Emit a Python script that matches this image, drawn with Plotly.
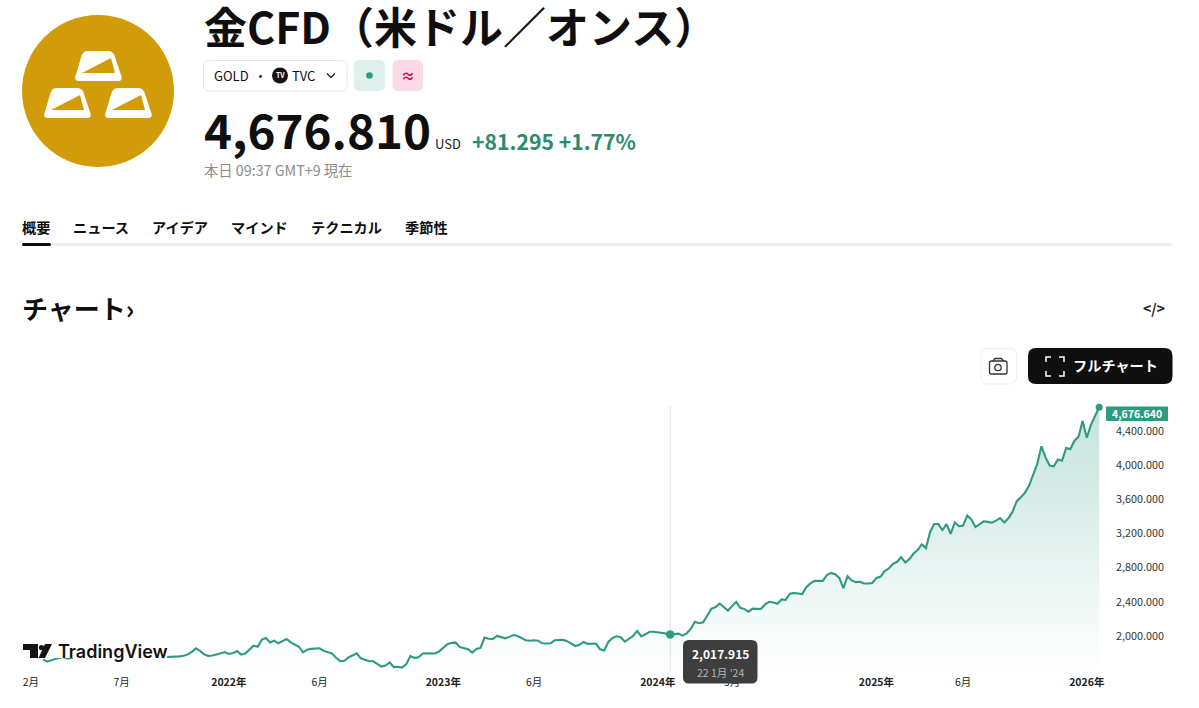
import math
import pandas as pd
import plotly.graph_objects as go

W = 1199
H = 708
FONT = 'Noto Sans CJK JP'
GREEN = '#2e9a80'

# weekly close (the part behind the logo is a best guess)
prices = [
    1725, 1700, 1715, 1735, 1745, 1755, 1735, 1745, 1775, 1770,
    1830, 1840, 1880, 1905, 1890, 1877, 1765, 1780, 1785, 1810,
    1815, 1802, 1812, 1762, 1780, 1783, 1816, 1828, 1788, 1752,
    1754, 1755, 1758, 1762, 1768, 1782, 1815, 1855, 1825, 1785,
    1768, 1772, 1785, 1798, 1812, 1790, 1800, 1824, 1782, 1795,
    1845, 1887, 1875, 1958, 1977, 1925, 1945, 1915, 1940, 1965,
    1925, 1895, 1875, 1808, 1840, 1850, 1852, 1856, 1826, 1812,
    1797, 1745, 1707, 1711, 1750, 1772, 1797, 1739, 1720, 1705,
    1704, 1672, 1643, 1655, 1690, 1636, 1641, 1630, 1668, 1766,
    1745, 1751, 1795, 1797, 1795, 1795, 1820, 1860, 1905, 1920,
    1922, 1870, 1860, 1845, 1805, 1848, 1860, 1982, 1968, 1965,
    2000, 1990, 1973, 1990, 2012, 2000, 1975, 1950, 1945, 1950,
    1945, 1915, 1912, 1915, 1950, 1955, 1957, 1940, 1915, 1883,
    1897, 1930, 1908, 1912, 1912, 1845, 1830, 1930, 1975, 1996,
    1985, 1935, 1965, 2000, 2060, 1995, 2020, 2050, 2050, 2045,
    2040, 2030, 2017.915, 2025, 2028, 2005, 2030, 2085, 2167, 2150,
    2160, 2240, 2320, 2338, 2380, 2340, 2298, 2350, 2400, 2330,
    2315, 2285, 2320, 2318, 2316, 2370, 2400, 2392, 2378, 2428,
    2422, 2495, 2503, 2497, 2490, 2570, 2615, 2645, 2644, 2645,
    2714, 2738, 2722, 2680, 2560, 2700, 2650, 2630, 2635, 2615,
    2615, 2620, 2680, 2695, 2760, 2790, 2845, 2868, 2922, 2860,
    2900, 2965, 3006, 3073, 3026, 3215, 3310, 3310, 3240, 3308,
    3195, 3330, 3285, 3292, 3410, 3365, 3275, 3305, 3342, 3335,
    3326, 3350, 3380, 3328, 3377, 3454, 3575, 3622, 3675, 3760,
    3880, 4015, 4220, 4090, 3995, 3985, 4065, 4050, 4200, 4184,
    4285, 4332, 4515, 4320, 4470, 4580, 4676.64,
]
dates = pd.date_range('2021-02-22', periods=len(prices), freq='7D')

hover_date = '2024-01-22'
hover_price = 2017.915

x_tickvals = ['2021-02-01', '2021-07-05', '2022-01-03', '2022-06-06', '2023-01-02', '2023-06-05',
              '2024-01-01', '2024-05-06', '2025-01-06', '2025-06-02', '2025-12-29']
x_ticktext = ['2月', '7月', '<b>2022年</b>', '6月', '<b>2023年</b>', '6月',
              '<b>2024年</b>', '5月', '<b>2025年</b>', '6月', '<b>2026年</b>']
y_tickvals = [2000, 2400, 2800, 3200, 3600, 4000, 4400]
x_range = ['2021-01-17', '2026-02-03']
y_range = [1579, 4761]

tabs = ['概要', 'ニュース', 'アイデア', 'マインド', 'テクニカル', '季節性']
tab_x = [21, 72, 151, 230, 310, 404]


def px(x):
    return x / W


def py(y):
    return 1 - y / H


def pt(x, y):
    return f'{px(x):.5f},{py(y):.5f}'


def poly(points, r=0):
    # closed polygon with rounded corners, page pixels
    n = len(points)
    out = ''
    for i in range(n):
        x, y = points[i]
        ax, ay = points[i - 1]
        bx, by = points[(i + 1) % n]
        la = math.hypot(ax - x, ay - y)
        lb = math.hypot(bx - x, by - y)
        p0 = (x + (ax - x) * r / la, y + (ay - y) * r / la)
        p1 = (x + (bx - x) * r / lb, y + (by - y) * r / lb)
        out += ('M' if i == 0 else 'L') + pt(*p0) + ' Q' + pt(x, y) + ' ' + pt(*p1) + ' '
    return out + 'Z'


def rrect(x0, y0, x1, y1, r):
    return poly([(x0, y0), (x1, y0), (x1, y1), (x0, y1)], r)


def line(points):
    return 'M' + ' L'.join(pt(x, y) for x, y in points)


shapes = []


def add_path(path, fill='rgba(0,0,0,0)', stroke=None, width=1):
    shapes.append(dict(type='path', path=path, xref='paper', yref='paper', fillcolor=fill,
                       line=dict(color=stroke or 'rgba(0,0,0,0)', width=width if stroke else 0), layer='above'))


def add_circle(cx, cy, r, fill='rgba(0,0,0,0)', stroke=None, width=1):
    shapes.append(dict(type='circle', xref='paper', yref='paper', x0=px(cx - r), x1=px(cx + r),
                       y0=py(cy + r), y1=py(cy - r), fillcolor=fill,
                       line=dict(color=stroke or 'rgba(0,0,0,0)', width=width if stroke else 0), layer='above'))


annotations = []


def add_text(x, y, text, size, color='#0f0f0f', bold=False, anchor='left', family=FONT, weight=None):
    f = dict(family=family, size=size, color=color)
    if weight:
        f['weight'] = weight
    annotations.append(dict(x=px(x), y=py(y), xref='paper', yref='paper', showarrow=False,
                            text=f'<b>{text}</b>' if bold else text, xanchor=anchor, yanchor='middle',
                            borderpad=0, font=f))


# logo
GOLD = '#d29c08'
add_circle(98, 91, 76, fill=GOLD)
for dx, dy in [(0, 0), (-31, 37), (30, 37)]:
    add_path(poly([(83 + dx, 51 + dy), (113 + dx, 51 + dy), (123 + dx, 81 + dy), (74 + dx, 81 + dy)], 5), fill='white')
    add_path(poly([(82 + dx, 73 + dy), (115 + dx, 73 + dy), (111 + dx, 58 + dy)], 0.5), fill=GOLD)

# header
add_text(203, 25, '金CFD（米ドル／オンス）', 43, bold=True)
add_path(rrect(203.5, 60.5, 347, 91, 6), fill='white', stroke='#e6e6e6')
add_text(213, 75.5, 'GOLD', 13)
add_text(260, 75.5, '・', 13, anchor='center')
add_circle(280, 75.5, 8, fill='#131313')
add_text(280, 75.5, 'TV', 7, color='white', bold=True, anchor='center')
add_text(290.5, 75.5, 'TVC', 13)
add_path(line([(327, 73.5), (331, 77.5), (335, 73.5)]), stroke='#222222', width=1.3)
add_path(rrect(354, 60, 385, 91, 6), fill='#dff0ec')
add_circle(369.5, 75.5, 3.3, fill=GREEN)
add_path(rrect(392.5, 60, 423, 91, 6), fill='#fbd9e6')
add_text(408, 75, '≈', 14, color='#c2185b', bold=True, anchor='center')

add_text(203, 129, '4,676.810', 47.5, bold=True)
add_text(434, 143.5, 'USD', 13, color='#222222')
add_text(470.5, 140.5, '+81.295 +1.77%', 21.2, color='#2b8a70', bold=True)
add_text(203, 169, '本日 09:37 GMT+9 現在', 14.3, color='#8c8c8c')

# tabs
for name, x in zip(tabs, tab_x):
    add_text(x, 227, name, 14.2, bold=True)
add_path(rrect(22, 243, 1172, 246, 1), fill='#f0f0f0')
add_path(rrect(22, 243, 51, 246, 1.5), fill='#0f0f0f')

# section head and buttons
add_text(21, 307, 'チャート›', 26, bold=True)
add_text(1154, 307.5, '&lt;/&gt;', 14, color='#222222', bold=True, anchor='center')
add_path(rrect(981, 348.5, 1016.5, 384, 7), fill='white', stroke='#efefef')
add_path(rrect(989.5, 361, 1007, 374, 2), stroke='#333333', width=1.3)
add_path(line([(993, 361), (995, 358.5), (1001.5, 358.5), (1003.5, 361)]), stroke='#333333', width=1.3)
add_circle(998, 367.5, 3.2, stroke='#333333', width=1.3)
add_path(rrect(1028, 348, 1172.5, 384, 8), fill='#0f0f0f')
for a, b, c in [((1046, 362), (1046, 357), (1051, 357)), ((1059, 357), (1064, 357), (1064, 362)),
                ((1064, 371), (1064, 376), (1059, 376)), ((1051, 376), (1046, 376), (1046, 371))]:
    add_path(line([a, b, c]), stroke='white', width=1.5)
add_text(1071.5, 365, 'フルチャート', 14.2, color='white', bold=True)

# crosshair and tooltip
shapes.append(dict(type='line', xref='x', yref='paper', x0=hover_date, x1=hover_date, y0=py(672), y1=py(406),
                   line=dict(color='#e0e0e0', width=1), layer='below'))
add_path(rrect(683, 640, 757.5, 683.5, 6), fill='#3e3e3e')
add_text(720, 653, '2,017.915', 12, color='white', bold=True, anchor='center')
add_text(720, 672, "22 1月 '24", 10.5, color='#b4b4b4', anchor='center')

# price tag
add_path(rrect(1106, 406.5, 1168, 421, 0.5), fill=GREEN)
add_text(1163, 413.5, '<b>4,676.640</b>', 10.5, color='white', anchor='right')

# TradingView mark, white box hides the line behind it
add_path(rrect(22, 642, 167, 658, 0.5), fill='white')
add_path(poly([(23, 644), (38, 644), (38, 658), (30, 658), (30, 650), (23, 650)]), fill='#131313')
add_circle(41.5, 647.5, 2.6, fill='#131313')
add_path(poly([(45, 644), (52, 644), (45, 658), (38.5, 658)]), fill='#131313')
add_text(56.5, 651, 'TradingView', 18, color='#131313', family='Inter', weight=600)

fig = go.Figure()
fig.add_trace(go.Scatter(x=dates, y=[y_range[0]] * len(dates), mode='lines', line=dict(width=0), hoverinfo='skip'))
fig.add_trace(go.Scatter(x=dates, y=prices, mode='lines', line=dict(color=GREEN, width=2.1), fill='tonexty',
                         fillgradient=dict(type='vertical',
                                           colorscale=[[0, 'rgba(46,154,128,0)'], [1, 'rgba(46,154,128,0.28)']])))
fig.add_trace(go.Scatter(x=[hover_date], y=[hover_price], mode='markers', marker=dict(color=GREEN, size=8.5), cliponaxis=False))
fig.add_trace(go.Scatter(x=[dates[-1]], y=[prices[-1]], mode='markers', marker=dict(color=GREEN, size=7), cliponaxis=False))

fig.update_layout(
    width=W, height=H, margin=dict(l=0, r=0, t=0, b=0), showlegend=False,
    paper_bgcolor='white', plot_bgcolor='rgba(0,0,0,0)',
    font=dict(family=FONT), shapes=shapes, annotations=annotations,
    xaxis=dict(domain=[px(22), px(1108)], range=x_range, type='date', tickmode='array', tickvals=x_tickvals,
               ticktext=x_ticktext, showgrid=False, zeroline=False, showline=False, ticks='', ticklabelstandoff=2,
               tickfont=dict(family=FONT, size=10.5, color='#222222')),
    yaxis=dict(domain=[py(672), py(400)], range=y_range, side='right', tickmode='array', tickvals=y_tickvals,
               tickformat=',.3f', showgrid=False, zeroline=False, showline=False, ticks='', ticklabelstandoff=7,
               tickfont=dict(family=FONT, size=10.8, color='#333333')),
)
fig.write_html('out.html', config={'displayModeBar': False},
               post_script="document.body.style.margin='0';document.body.style.overflow='hidden';")
